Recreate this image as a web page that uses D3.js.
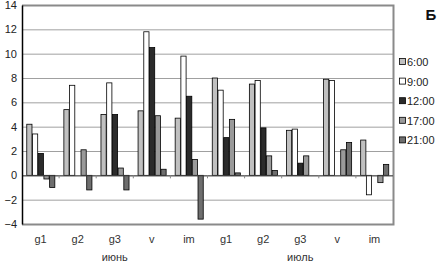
<!DOCTYPE html>
<html>
<head>
<meta charset="utf-8">
<script src="https://cdn.jsdelivr.net/npm/d3@7"></script>
<style>
  body { margin: 0; background: #fff; }
  text { font-family: "Liberation Sans", Arial, sans-serif; }
</style>
</head>
<body>
<div class="canvas"></div>
<script>
// chart data
const categories = ["g1", "g2", "g3", "v", "im", "g1", "g2", "g3", "v", "im"]
const months = ["июнь", "июль"]
const seriesNames = ["6:00", "9:00", "12:00", "17:00", "21:00"]
const s0600 = [4.2, 5.4, 5.0, 5.3, 4.7, 8.0, 7.5, 3.7, 7.9, 2.9]
const s0900 = [3.4, 7.4, 7.6, 11.8, 9.8, 7.0, 7.8, 3.8, 7.8, -1.6]
const s1200 = [1.8, null, 5.0, 10.5, 6.5, 3.1, 3.9, 1.0, null, null]
const s1700 = [-0.3, 2.1, 0.6, 4.9, 1.3, 4.6, 1.6, 1.6, 2.1, -0.6]
const s2100 = [-1.0, -1.2, -1.2, 0.5, -3.6, 0.2, 0.4, null, 2.7, 0.9]
const yTicks = [-4, -2, 0, 2, 4, 6, 8, 10, 12, 14]

const seriesValues = [s0600, s0900, s1200, s1700, s2100]
const colors = ["#c0c0c0", "#ffffff", "#2b2b2b", "#9a9a9a", "#6e6e6e"]

/**
 * Dimensions
 */
const width = 439, height = 263
const margin = {top: 5, right: 46, bottom: 39, left: 22}
const graphWidth = width - margin.left - margin.right
const graphHeight = height - margin.top - margin.bottom

const svg = d3.select(".canvas")
    .append("svg")
    .attr("width", width)
    .attr("height", height)

const graph = svg.append("g")
    .attr("transform", `translate(${margin.left},${margin.top})`)

/**
 * Scales
 */
const x0 = d3.scaleBand()
    .domain(d3.range(categories.length))
    .range([0, graphWidth])
    .paddingInner(0.23)
    .paddingOuter(0.115)

const x1 = d3.scaleBand()
    .domain(d3.range(seriesNames.length))
    .range([0, x0.bandwidth()])

const y = d3.scaleLinear().domain([-4, 14]).range([graphHeight, 0])

// gridlines
graph.append("g")
    .selectAll("line")
    .data(yTicks.filter(t => t > -4 && t < 14))
    .enter().append("line")
        .attr("x1", 0).attr("x2", graphWidth)
        .attr("y1", d => y(d) + 0.5).attr("y2", d => y(d) + 0.5)
        .attr("stroke", "#a0a0a0")
        .attr("stroke-width", 1)

// plot border (top, right, bottom)
graph.append("path")
    .attr("d", `M0,${y(14) + 0.5}H${graphWidth + 0.5}V${y(-4) + 0.5}H0`)
    .attr("fill", "none")
    .attr("stroke", "#8a8a8a")
    .attr("stroke-width", 2)

// bars
seriesValues.forEach((vals, s) => {
    graph.append("g")
        .selectAll("rect")
        .data(vals.map((v, i) => ({i, v})).filter(d => d.v !== null))
        .enter().append("rect")
            .attr("x", d => x0(d.i) + x1(s) + 0.5)
            .attr("width", x1.bandwidth() - 0.5)
            .attr("y", d => y(Math.max(0, d.v)))
            .attr("height", d => Math.abs(y(d.v) - y(0)))
            .attr("fill", colors[s])
            .attr("stroke", "#000")
            .attr("stroke-width", 0.8)
})

// zero line with small ticks between categories
graph.append("line")
    .attr("x1", 0).attr("x2", graphWidth)
    .attr("y1", y(0) + 0.5).attr("y2", y(0) + 0.5)
    .attr("stroke", "#444")
    .attr("stroke-width", 1)

graph.append("g")
    .selectAll("line")
    .data(d3.range(1, categories.length))
    .enter().append("line")
        .attr("x1", i => i * graphWidth / categories.length)
        .attr("x2", i => i * graphWidth / categories.length)
        .attr("y1", y(0)).attr("y2", y(0) + 3)
        .attr("stroke", "#888")

// y axis
const yAxis = d3.axisLeft(y).tickValues(yTicks).tickSize(0).tickPadding(5)
const yAxisGroup = graph.append("g").call(yAxis)
yAxisGroup.select(".domain").attr("stroke", "#000").attr("stroke-width", 1.5)
yAxisGroup.selectAll("text")
    .style("font-size", "11px")
    .attr("fill", "#222")

// category labels
graph.append("g")
    .selectAll("text")
    .data(categories)
    .enter().append("text")
        .attr("x", (d, i) => x0(i) + x0.bandwidth() / 2)
        .attr("y", graphHeight + 19)
        .attr("text-anchor", "middle")
        .style("font-size", "11px")
        .attr("fill", "#333")
        .text(d => d)

// month labels
graph.append("g")
    .selectAll("text")
    .data(months)
    .enter().append("text")
        .attr("x", (d, i) => (i * 5 + 2.5) * graphWidth / categories.length)
        .attr("y", graphHeight + 37)
        .attr("text-anchor", "middle")
        .style("font-size", "11px")
        .attr("fill", "#333")
        .text(d => d)

// legend
const legend = svg.append("g")
    .attr("transform", "translate(399, 62)")

const items = legend.selectAll("g")
    .data(seriesNames)
    .enter().append("g")
        .attr("transform", (d, i) => `translate(0, ${i * 19.6})`)

items.append("rect")
    .attr("x", 0.5).attr("y", -3.5)
    .attr("width", 6).attr("height", 6)
    .attr("fill", (d, i) => colors[i])
    .attr("stroke", "#000")
    .attr("stroke-width", 0.8)

items.append("text")
    .attr("x", 8).attr("y", 4)
    .style("font-size", "11px")
    .attr("fill", "#222")
    .text(d => d)

// panel letter
svg.append("text")
    .attr("x", 431).attr("y", 20)
    .attr("text-anchor", "middle")
    .style("font-size", "15px")
    .style("font-weight", "bold")
    .attr("fill", "#111")
    .text("Б")
</script>
</body>
</html>
